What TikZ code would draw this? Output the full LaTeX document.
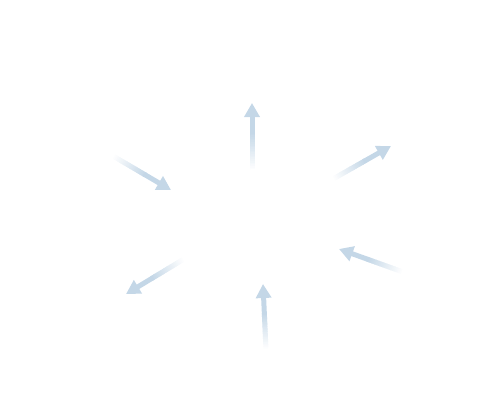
\documentclass[tikz,border=0pt]{standalone}
\usetikzlibrary{arrows.meta,calc}
\definecolor{arrowblue}{RGB}{196,215,231}
\tikzset{
  shaftseg/.style={line width=5pt},
  solidarrow/.style={line width=5pt,draw=arrowblue,-{Triangle[length=14pt,width=15pt]}}
}
\newcommand\fadearrow[2]{%
  \foreach \k in {0,...,21}{%
    \pgfmathsetmacro\fa{\k*0.025}%
    \pgfmathsetmacro\fb{(\k+1.4)*0.025}%
    \pgfmathsetmacro\fc{min(100,\k*4.6)}%
    \draw[shaftseg,draw=arrowblue!\fc!white] ($(#1)!\fa!(#2)$) -- ($(#1)!\fb!(#2)$);
  }%
  \draw[solidarrow] ($(#1)!0.54!(#2)$) -- (#2);
}
\begin{document}
\begin{tikzpicture}[x=1pt,y=-1pt]
\useasboundingbox (0,0) rectangle (503,415);
\coordinate (t1) at (252,171); \coordinate (h1) at (252,103);
\coordinate (t2) at (333,179); \coordinate (h2) at (391,146);
\coordinate (t3) at (403,272); \coordinate (h3) at (339,249);
\coordinate (t4) at (266,350); \coordinate (h4) at (263,284);
\coordinate (t5) at (184,259); \coordinate (h5) at (126,294);
\coordinate (t6) at (113,156); \coordinate (h6) at (171,190);
\fadearrow{t1}{h1}
\fadearrow{t2}{h2}
\fadearrow{t3}{h3}
\fadearrow{t4}{h4}
\fadearrow{t5}{h5}
\fadearrow{t6}{h6}
\end{tikzpicture}
\end{document}
